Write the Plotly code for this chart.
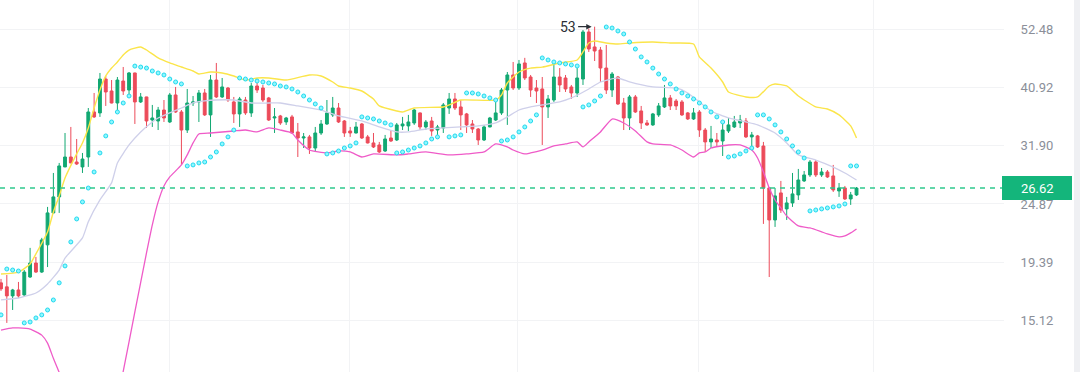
import math
import plotly.graph_objects as go

# ---------------- data ----------------
opens = [17.76, 17.46, 16.80, 17.23, 16.87, 18.21, 19.33, 18.60, 20.89, 23.94,
         25.63, 29.13, 30.39, 29.75, 29.13, 30.39, 36.83, 36.68, 42.39, 40.28,
         38.27, 42.03, 40.45, 43.50, 38.44, 39.27, 35.59, 35.44, 37.14, 35.29,
         39.60, 36.83, 34.10, 38.27, 38.44, 39.94, 36.37, 42.21, 39.27, 40.80,
         38.44, 36.52, 38.76, 36.68, 41.15, 40.80, 39.10, 35.90, 36.21, 35.29,
         36.06, 33.82, 32.96, 33.11, 31.58, 33.67, 34.99, 36.37, 37.46, 35.44,
         33.96, 33.67, 34.99, 33.11, 32.27, 31.99, 31.18, 32.96, 32.68, 34.70,
         34.70, 35.14, 36.68, 34.55, 35.44, 34.10, 34.40, 37.46, 38.93, 37.63,
         36.52, 34.99, 34.25, 32.68, 34.55, 35.59, 36.68, 40.45, 43.13, 40.80,
         45.40, 42.76, 40.80, 40.63, 37.63, 38.76, 42.76, 42.58, 40.98, 39.94,
         42.39, 51.82, 48.61, 47.98, 44.43, 40.45, 42.76, 38.27, 35.90, 39.27,
         36.99, 35.14, 34.85, 36.37, 37.63, 39.10, 38.60, 38.44, 36.68, 35.75,
         36.83, 34.10, 32.41, 32.68, 32.54, 33.96, 34.55, 35.14, 35.44, 33.11,
         33.25, 31.85, 26.63, 23.23, 26.07, 24.35, 24.98, 25.85, 27.44, 28.15,
         29.75, 28.15, 28.51, 28.03, 26.29, 26.63, 25.41, 25.85]
highs = [18.06, 18.37, 17.31, 17.83, 18.76, 20.62, 19.84, 21.52, 24.56, 28.39,
         29.63, 33.67, 34.55, 32.82, 30.92, 37.46, 39.94, 43.50, 42.95, 42.21,
         42.76, 44.63, 43.68, 43.55, 39.94, 39.30, 37.95, 37.63, 38.76, 39.94,
         40.98, 37.14, 40.63, 39.43, 40.45, 40.63, 43.13, 45.40, 42.58, 40.98,
         39.27, 39.27, 39.27, 41.68, 41.68, 41.33, 39.27, 37.46, 36.37, 36.06,
         36.37, 35.14, 33.67, 33.39, 34.55, 35.59, 38.76, 39.27, 38.27, 35.59,
         34.55, 35.29, 35.14, 33.39, 33.67, 32.41, 33.39, 34.10, 35.14, 36.06,
         36.37, 37.30, 36.75, 35.59, 36.06, 34.85, 38.27, 39.94, 39.94, 38.76,
         36.68, 35.59, 34.40, 34.85, 36.06, 38.44, 40.80, 43.68, 45.59, 45.98,
         46.40, 43.13, 42.21, 42.76, 39.60, 45.02, 44.43, 43.13, 41.33, 44.43,
         52.26, 52.60, 53.00, 48.61, 49.02, 43.68, 42.95, 39.10, 39.60, 39.60,
         37.79, 35.59, 36.68, 38.27, 41.33, 39.60, 38.93, 38.76, 36.83, 37.46,
         37.14, 34.40, 34.70, 33.67, 35.29, 35.90, 36.21, 36.37, 35.90, 33.82,
         33.39, 32.41, 26.74, 26.63, 27.44, 25.63, 28.39, 28.88, 28.63, 30.00,
         30.00, 29.00, 28.75, 29.38, 27.20, 26.86, 26.18, 26.74]
lows = [17.16, 14.97, 15.82, 16.65, 16.73, 18.14, 18.53, 18.53, 19.00, 23.90,
        23.94, 29.10, 29.60, 29.38, 28.39, 29.13, 35.90, 36.06, 37.79, 38.20,
        36.68, 39.60, 39.27, 34.99, 38.27, 34.40, 34.55, 34.10, 35.29, 35.14,
        36.68, 29.38, 33.67, 37.79, 35.29, 36.21, 33.11, 39.10, 39.10, 38.44,
        35.14, 34.55, 36.37, 36.06, 39.94, 38.44, 35.44, 33.67, 34.85, 34.85,
        33.60, 30.39, 31.58, 30.79, 31.18, 33.39, 34.85, 36.06, 35.14, 33.11,
        33.11, 33.60, 32.82, 32.20, 31.58, 30.92, 31.05, 32.41, 32.54, 34.10,
        33.96, 34.85, 34.10, 34.10, 33.25, 33.39, 33.67, 36.52, 37.14, 34.10,
        33.67, 33.67, 31.99, 32.54, 34.50, 35.44, 36.37, 34.85, 40.45, 40.45,
        42.21, 39.27, 38.27, 31.99, 35.90, 38.44, 40.11, 40.11, 38.93, 39.27,
        41.33, 47.58, 45.78, 41.86, 39.77, 39.27, 37.95, 34.10, 34.10, 36.68,
        34.25, 34.70, 34.70, 36.06, 37.46, 37.14, 37.14, 36.21, 35.59, 35.59,
        33.11, 31.05, 31.58, 31.72, 30.52, 33.67, 34.40, 34.40, 32.96, 31.58,
        31.58, 22.84, 18.21, 22.55, 23.94, 23.23, 24.56, 25.30, 27.32, 27.91,
        27.91, 27.91, 27.79, 26.18, 25.63, 25.30, 24.77, 25.74]
closes = [17.31, 16.80, 17.23, 16.80, 18.60, 19.33, 18.60, 21.33, 23.94, 25.63,
          29.25, 30.39, 29.63, 29.50, 30.13, 36.83, 36.06, 42.39, 40.11, 38.27,
          42.21, 40.28, 43.50, 38.44, 39.27, 35.44, 35.90, 37.14, 35.90, 39.60,
          36.83, 34.10, 38.27, 38.44, 39.94, 36.37, 42.21, 39.27, 40.98, 38.76,
          36.52, 38.93, 36.68, 41.15, 40.45, 38.76, 35.59, 36.06, 35.14, 35.90,
          33.67, 32.96, 33.11, 31.58, 33.67, 34.99, 36.68, 37.46, 35.29, 33.67,
          33.67, 34.55, 32.96, 32.27, 31.72, 31.05, 32.82, 32.54, 34.85, 34.99,
          35.29, 37.14, 34.55, 35.29, 33.96, 34.55, 37.95, 38.93, 37.46, 36.37,
          34.85, 34.25, 32.68, 34.55, 35.90, 36.68, 40.45, 43.13, 40.80, 45.21,
          42.58, 40.45, 40.28, 37.63, 38.93, 42.76, 41.33, 40.63, 39.94, 42.58,
          51.82, 48.19, 47.78, 44.43, 40.45, 43.31, 38.11, 35.90, 39.27, 36.83,
          35.14, 34.85, 36.52, 37.79, 39.10, 37.79, 37.79, 36.37, 35.75, 36.68,
          34.10, 32.41, 32.82, 32.41, 34.10, 34.85, 35.29, 35.59, 33.11, 33.39,
          31.72, 26.63, 23.23, 25.74, 24.24, 24.98, 25.96, 27.55, 28.15, 29.75,
          28.15, 28.51, 27.91, 26.40, 26.63, 25.41, 25.85, 26.62]

upper_idx = [0, 3, 5, 6, 8, 9, 10, 11, 13, 14, 15, 16, 17, 18, 19, 20, 21, 22, 24, 25,
             27, 29, 31, 33, 34, 36, 38, 40, 42, 44, 46, 49, 53, 55, 57, 58, 60, 62, 64, 65,
             68, 69, 71, 76, 77, 79, 85, 86, 87, 89, 91, 93, 96, 99, 100, 101, 102, 104, 106, 108,
             112, 115, 119, 120, 122, 124, 125, 128, 130, 132, 133, 135, 137, 140, 142, 144, 146, 147]
upper_val = [18.45, 18.60, 19.25, 20.10, 22.07, 24.04, 25.74, 27.78, 30.79, 32.27,
             34.40, 37.46, 40.45, 42.95, 44.42, 45.59, 46.98, 47.98, 48.61, 47.98,
             46.38, 45.40, 44.63, 43.87, 43.31, 43.68, 43.50, 42.95, 42.21, 42.58,
             42.58, 42.21, 43.13, 42.95, 41.86, 41.15, 40.80, 40.28, 38.93, 37.79,
             36.99, 36.83, 37.46, 37.63, 37.95, 38.76, 38.76, 39.60, 41.68, 43.68,
             44.42, 44.61, 45.40, 45.98, 47.58, 49.44, 49.86, 49.44, 49.23, 49.44,
             49.65, 49.44, 49.23, 46.58, 44.42, 41.86, 40.11, 39.27, 39.27, 41.15,
             41.51, 41.15, 39.43, 37.63, 37.30, 36.37, 34.70, 32.96]

middle_idx = [0, 3, 6, 8, 10, 11, 14, 15, 17, 19, 20, 22, 24, 26, 27, 29, 31, 33, 35, 37,
              40, 43, 46, 48, 51, 55, 58, 62, 65, 68, 70, 73, 76, 79, 82, 85, 87, 89, 91, 93,
              96, 98, 101, 103, 106, 108, 112, 116, 118, 120, 122, 125, 128, 130, 133, 135, 137, 140,
              143, 145, 147]
middle_val = [16.51, 16.65, 17.01, 17.68, 18.76, 19.74, 21.52, 23.04, 25.30, 27.21,
              29.63, 31.99, 33.82, 35.29, 35.90, 36.68, 37.46, 38.27, 38.60, 38.76,
              38.76, 38.27, 38.27, 38.27, 37.79, 37.14, 36.21, 35.44, 34.55, 33.82,
              33.82, 34.25, 34.40, 34.55, 34.70, 35.14, 36.06, 37.14, 37.63, 37.95,
              38.44, 39.10, 40.63, 41.86, 42.58, 41.86, 40.98, 40.80, 39.94, 38.44,
              36.99, 35.90, 35.29, 34.85, 33.67, 32.27, 30.66, 30.00, 29.11, 28.39,
              27.55]

lower_idx = [0, 2, 3, 5, 7, 8, 9, 10, 12, 15, 18, 20, 21, 23, 25, 26, 27, 28, 29, 31,
             32, 33, 34, 36, 40, 42, 44, 46, 48, 50, 51, 53, 56, 58, 60, 62, 64, 68, 70, 73,
             77, 80, 83, 85, 87, 88, 90, 91, 93, 95, 97, 99, 100, 101, 103, 105, 107, 109, 111, 112,
             115, 117, 119, 120, 121, 122, 125, 127, 129, 130, 131, 132, 133, 134, 135, 137, 139, 141,
             142, 144, 145, 146, 147]
lower_val = [14.52, 14.65, 14.65, 14.58, 14.21, 13.73, 12.87, 12.12, 10.50, 8.50,
             8.50, 10.80, 12.17, 15.69, 20.18, 22.75, 25.09, 26.86, 27.91, 29.38,
             30.66, 32.27, 33.53, 33.67, 33.96, 34.10, 33.82, 34.40, 34.10, 33.67,
             32.68, 31.31, 30.92, 31.18, 31.05, 30.39, 30.79, 30.66, 30.79, 31.05,
             30.66, 30.79, 31.05, 32.13, 31.72, 31.31, 30.79, 30.92, 31.31, 31.86,
             32.13, 32.41, 31.72, 32.41, 33.82, 35.74, 35.14, 33.96, 32.41, 32.13,
             31.99, 31.31, 30.39, 30.92, 31.05, 31.58, 31.99, 31.99, 31.31, 30.26,
             28.51, 26.63, 25.30, 24.45, 23.63, 22.65, 22.45, 22.08, 21.89, 21.61,
             21.70, 21.98, 22.35]

sar = [15.49, 18.84, 18.76, 18.68, 14.97, 15.03, 15.29, 15.49, 15.82, 16.51,
       17.76, 19.09, 21.15, 23.33, 25.09, 26.62, 28.51, 30.92, 33.25, 35.29,
       36.83, 38.27, 39.43, 44.80, 44.61, 44.42, 43.87, 43.50, 43.13, 42.39,
       41.86, 41.51, 29.25, 29.38, 29.63, 29.75, 30.39, 31.05, 32.13, 33.11,
       34.10, 42.58, 42.39, 42.21, 42.03, 41.86, 41.68, 41.51, 41.15, 40.98,
       40.63, 40.11, 39.43, 38.76, 38.11, 37.46, 30.79, 30.92, 31.18, 31.58,
       31.86, 32.27, 36.06, 35.90, 35.75, 35.44, 35.14, 34.85, 30.92, 31.05,
       31.31, 31.58, 31.86, 32.27, 32.82, 33.11, None, 33.11, 33.25, 33.39,
       39.94, 39.94, 39.77, 39.43, 39.10, 38.76, 32.54, 32.68, 33.11, 33.82,
       34.55, 35.44, 36.37, 46.38, 45.98, 45.59, 45.40, 45.21, 45.02, 44.82,
       37.63, 37.95, 38.60, 39.43, 52.93, 52.70, 52.04, 51.38, 49.65, 48.18,
       46.58, 45.59, 44.42, 43.31, 42.39, 41.51, 40.63, 39.94, 39.43, 38.93,
       38.27, 37.63, 36.83, 36.06, 35.29, 30.39, 30.52, 30.79, 31.18, 31.58,
       36.37, 36.37, 35.75, 34.85, 33.82, 32.82, 31.86, 31.05, 30.26, 24.14,
       24.24, 24.35, 24.45, 24.56, 24.66, 24.87, 29.25, 29.25]

y_ticks = [15.12, 19.39, 24.87, 31.90, 40.92, 52.48]
grid_x = [28.9, 59.8, 88.8, 119.9, 149.9]
peak_label = "53"
idx = list(range(len(closes)))
peak_i = highs.index(max(highs))
last = closes[-1]

# ---------------- styling ----------------
GREEN = "#12a872"
RED = "#ec4b5a"
GRID = "#f2f3f5"

fig = go.Figure()
fig.add_trace(go.Candlestick(
    x=idx, open=opens, high=highs, low=lows, close=closes,
    increasing=dict(line=dict(color=GREEN, width=1), fillcolor=GREEN),
    decreasing=dict(line=dict(color=RED, width=1), fillcolor=RED),
    whiskerwidth=0, hoverinfo="skip", showlegend=False))

fig.add_trace(go.Scatter(x=upper_idx, y=upper_val, mode="lines",
                         line=dict(color="#fbe54a", width=1.4, shape="spline", smoothing=0.5),
                         hoverinfo="skip"))
fig.add_trace(go.Scatter(x=middle_idx, y=middle_val, mode="lines",
                         line=dict(color="#cfd0ea", width=1.3, shape="spline", smoothing=0.5),
                         hoverinfo="skip"))
fig.add_trace(go.Scatter(x=lower_idx, y=lower_val, mode="lines",
                         line=dict(color="#ef5bc8", width=1.3, shape="spline", smoothing=0.5),
                         hoverinfo="skip"))
fig.add_trace(go.Scatter(x=idx, y=sar, mode="markers",
                         marker=dict(size=4, color="#8ef8ff",
                                     line=dict(color="#22d8ee", width=1)),
                         hoverinfo="skip"))

W, H = 1080, 372
plot_right = 1004

fig.update_layout(
    width=W, height=H,
    margin=dict(l=0, r=W - plot_right, t=0, b=0, autoexpand=False),
    paper_bgcolor="white", plot_bgcolor="white",
    showlegend=False,
    font=dict(family="Roboto, Arial, sans-serif"),
    xaxis=dict(range=[-0.172, 172.34], tickvals=grid_x, showticklabels=False,
               showgrid=True, gridcolor=GRID, zeroline=False, showline=False,
               rangeslider=dict(visible=False), ticks=""),
    yaxis=dict(type="log", side="right",
               range=[1.08423, 1.77375],
               tickvals=y_ticks, ticktext=[f"{v:.2f}" for v in y_ticks],
               tickfont=dict(size=13, color="#8b8f99", family="Roboto, Arial, sans-serif"),
               showgrid=True, gridcolor=GRID, zeroline=False, showline=False,
               ticks="outside", ticklen=13, tickcolor="rgba(0,0,0,0)"),
)

# last price dashed line and label
fig.add_shape(type="line", xref="paper", yref="y", x0=0, x1=1, y0=last, y1=last,
              line=dict(color="#2fc98d", width=1.6, dash="5px,5px"), layer="above")
fig.add_shape(type="rect", xref="paper", yref="y",
              x0=1002 / plot_right, x1=1072 / plot_right,
              y0=last / 1.0525, y1=last * 1.0525,
              fillcolor="#14b57b", line=dict(width=0), layer="above")
fig.add_annotation(xref="paper", yref="y", x=1037 / plot_right, y=math.log10(last),
                   text=f"{last:.2f}", showarrow=False, xanchor="center", yanchor="middle",
                   font=dict(size=13, color="white", family="Roboto, Arial, sans-serif"))

# right grey strip
fig.add_shape(type="rect", xref="paper", yref="paper",
              x0=1074 / plot_right, x1=1.2, y0=0, y1=1,
              fillcolor="#eff0f3", line=dict(width=0), layer="below")

# peak annotation with arrow
fig.add_annotation(x=peak_i, y=math.log10(max(highs)), xref="x", yref="y",
                   text=peak_label, showarrow=True, ax=-27, ay=0,
                   arrowhead=2, arrowsize=0.9, arrowwidth=1.2, arrowcolor="#2b2f36",
                   standoff=3, startstandoff=1,
                   font=dict(size=14, color="#2b2f36", family="Roboto, Arial, sans-serif"))

fig.write_html("out.html", config={"displayModeBar": False},
               post_script="document.body.style.margin='0px';document.body.style.overflow='hidden';")
